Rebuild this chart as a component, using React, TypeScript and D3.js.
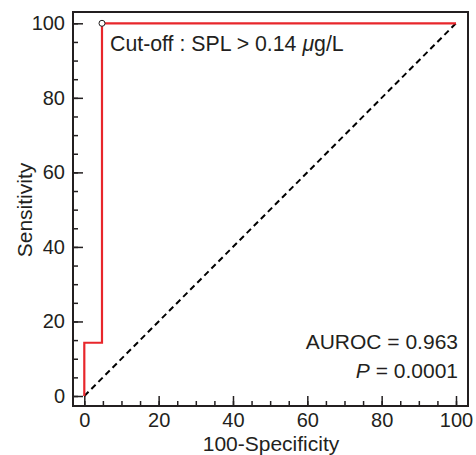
import * as d3 from "d3";
import { useRef, useEffect } from "react";

// ROC curve points: [100-Specificity, Sensitivity]
const rocFpr = [0, 0, 4.76, 4.76, 100];
const rocTpr = [0, 14.29, 14.29, 100, 100];
const cutoffPoint = [4.76, 100];
const majorTicks = [0, 20, 40, 60, 80, 100];
const minorTicks = d3.range(0, 101, 5);
const aurocText = "AUROC = 0.963";
const pValue = "0.0001";

const W = 476;
const H = 455;
const frame = { left: 73, top: 12, right: 468, bottom: 406 };
const font = "'Liberation Sans', Arial, Helvetica, sans-serif";
const ink = "#231f20";
const red = "#e8262b";

export default function App() {
  const gx = useRef<SVGGElement>(null);
  const gxm = useRef<SVGGElement>(null);
  const gy = useRef<SVGGElement>(null);
  const gym = useRef<SVGGElement>(null);

  const x = d3.scaleLinear([0, 100], [84.3, 456]);
  const y = d3.scaleLinear([0, 100], [396, 23.3]);

  const pts: [number, number][] = rocFpr.map((f, i) => [f, rocTpr[i]]);
  const line = d3.line<[number, number]>().x((d) => x(d[0])).y((d) => y(d[1]));

  useEffect(() => {
    const style = (g: any) => {
      g.select(".domain").remove();
      g.selectAll("line").attr("stroke", ink).attr("stroke-width", 1.5);
      g.selectAll("text").attr("font-family", font).attr("font-size", 20).attr("fill", ink);
    };
    d3.select(gx.current!)
      .call(d3.axisBottom(x).tickValues(majorTicks).tickSize(-10).tickPadding(7).tickFormat(d3.format("d")))
      .call(style);
    d3.select(gxm.current!)
      .call(d3.axisBottom(x).tickValues(minorTicks).tickSize(-5).tickFormat(() => ""))
      .call(style);
    d3.select(gy.current!)
      .call(d3.axisLeft(y).tickValues(majorTicks).tickSize(-10).tickPadding(8).tickFormat(d3.format("d")))
      .call(style);
    d3.select(gym.current!)
      .call(d3.axisLeft(y).tickValues(minorTicks).tickSize(-5).tickFormat(() => ""))
      .call(style);
  }, []);

  return (
    <svg
      width={W}
      height={H}
      style={{ position: "absolute", left: 0, top: 0, background: "#fff" }}
      fontFamily={font}
    >
      <rect x={0} y={0} width={W} height={H} fill="#fff" />
      <g ref={gxm} transform={`translate(0,${frame.bottom})`} />
      <g ref={gx} transform={`translate(0,${frame.bottom})`} />
      <g ref={gym} transform={`translate(${frame.left},0)`} />
      <g ref={gy} transform={`translate(${frame.left},0)`} />
      <rect
        x={frame.left}
        y={frame.top}
        width={frame.right - frame.left}
        height={frame.bottom - frame.top}
        fill="none"
        stroke={ink}
        strokeWidth={2}
      />
      <line
        x1={x(0)}
        y1={y(0)}
        x2={x(100)}
        y2={y(100)}
        stroke="#000"
        strokeWidth={2}
        strokeDasharray="6,4"
      />
      <path d={line(pts) ?? ""} fill="none" stroke={red} strokeWidth={2.2} />
      <circle cx={x(cutoffPoint[0])} cy={y(cutoffPoint[1])} r={3} fill="#fff" stroke={ink} strokeWidth={1} />
      <text x={110} y={51} fontSize={21.3} fill={ink}>
        Cut-off : SPL &gt; 0.14 <tspan fontStyle="italic">μ</tspan>g/L
      </text>
      <text x={458} y={349} fontSize={21} fill={ink} textAnchor="end">
        {aurocText}
      </text>
      <text x={458} y={378} fontSize={21} fill={ink} textAnchor="end">
        <tspan fontStyle="italic">P</tspan> = {pValue}
      </text>
      <text
        transform={`translate(32,210) rotate(-90)`}
        fontSize={21}
        fill={ink}
        textAnchor="middle"
      >
        Sensitivity
      </text>
      <text x={271} y={451} fontSize={21} fill={ink} textAnchor="middle">
        100-Specificity
      </text>
    </svg>
  );
}
